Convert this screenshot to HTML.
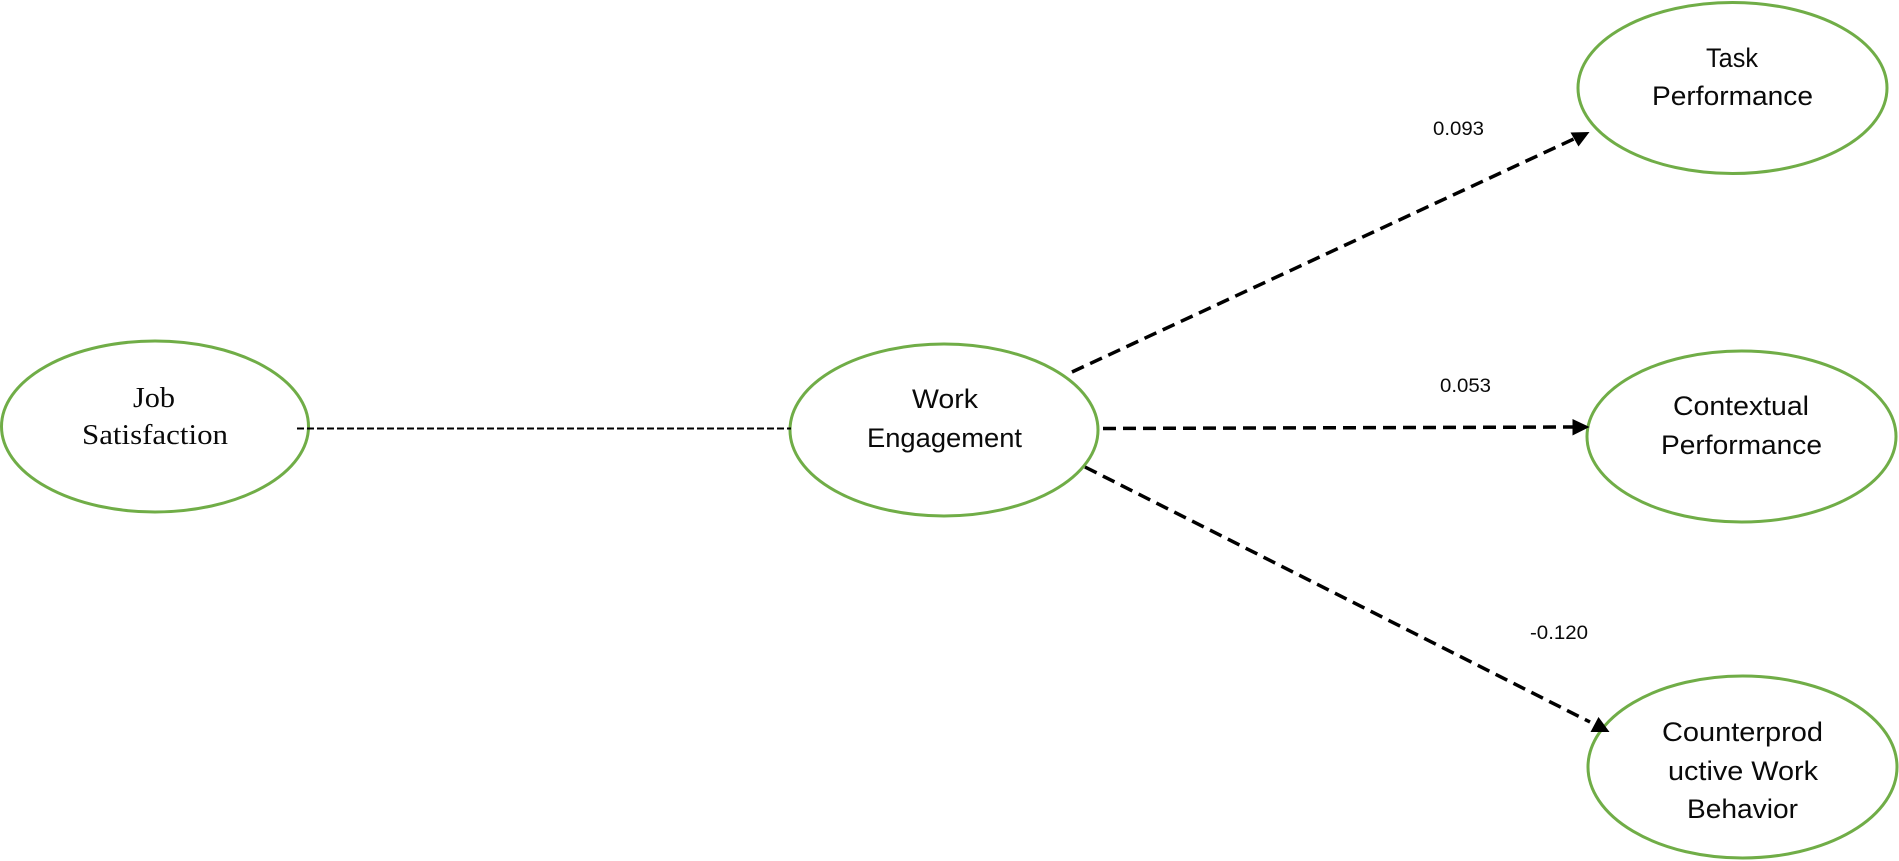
<!DOCTYPE html>
<html>
<head>
<meta charset="utf-8">
<style>
html,body{margin:0;padding:0;background:#fff;}
svg{display:block;}
text{font-family:"Liberation Sans",sans-serif;fill:#0a0a0a;}
.s{font-family:"Liberation Serif",serif;font-size:28px;}
.n{font-size:27px;}
.v{font-size:19px;}
</style>
</head>
<body>
<svg width="1899" height="861" viewBox="0 0 1899 861" xmlns="http://www.w3.org/2000/svg">
<rect width="1899" height="861" fill="#fff"/>
<g fill="#fff" stroke="#70AD47" stroke-width="3">
<ellipse cx="155" cy="426.5" rx="153.5" ry="85.5"/>
<ellipse cx="944" cy="430" rx="154" ry="86"/>
<ellipse cx="1732.5" cy="88" rx="154.5" ry="85.5"/>
<ellipse cx="1741.5" cy="436.5" rx="154.5" ry="85.5"/>
<ellipse cx="1742.5" cy="767" rx="154.5" ry="91"/>
</g>
<line x1="297" y1="428.5" x2="791" y2="428.5" stroke="#000" stroke-width="2" stroke-dasharray="7 3"/>
<g stroke="#000" stroke-width="3.5" stroke-dasharray="13 7" fill="none">
<line x1="1072" y1="372" x2="1578" y2="137"/>
<line x1="1103" y1="428.5" x2="1575" y2="427"/>
<line x1="1085" y1="467" x2="1590" y2="722"/>
</g>
<polygon points="1589.5,132 1570.5,132.5 1578.5,146.5" fill="#000"/>
<polygon points="1589.5,427 1572.5,419 1572.5,435.5" fill="#000"/>
<polygon points="1598.5,717 1590.5,732 1609.5,732" fill="#000"/>
<text class="s" x="133" y="407" textLength="42" lengthAdjust="spacingAndGlyphs">Job</text>
<text class="s" x="82" y="444" textLength="146" lengthAdjust="spacingAndGlyphs">Satisfaction</text>
<text class="n" x="912" y="408" textLength="66" lengthAdjust="spacingAndGlyphs">Work</text>
<text class="n" x="867" y="447" textLength="155" lengthAdjust="spacingAndGlyphs">Engagement</text>
<text class="n" x="1706" y="67" textLength="52" lengthAdjust="spacingAndGlyphs">Task</text>
<text class="n" x="1652" y="105" textLength="161" lengthAdjust="spacingAndGlyphs">Performance</text>
<text class="n" x="1673" y="415" textLength="136" lengthAdjust="spacingAndGlyphs">Contextual</text>
<text class="n" x="1661" y="454" textLength="161" lengthAdjust="spacingAndGlyphs">Performance</text>
<text class="n" x="1662" y="741" textLength="161" lengthAdjust="spacingAndGlyphs">Counterprod</text>
<text class="n" x="1668" y="780" textLength="150" lengthAdjust="spacingAndGlyphs">uctive Work</text>
<text class="n" x="1687" y="818" textLength="111" lengthAdjust="spacingAndGlyphs">Behavior</text>
<text class="v" x="1433" y="135" textLength="51" lengthAdjust="spacingAndGlyphs">0.093</text>
<text class="v" x="1440" y="392" textLength="51" lengthAdjust="spacingAndGlyphs">0.053</text>
<text class="v" x="1530" y="639" textLength="58" lengthAdjust="spacingAndGlyphs">-0.120</text>
</svg>
</body>
</html>
